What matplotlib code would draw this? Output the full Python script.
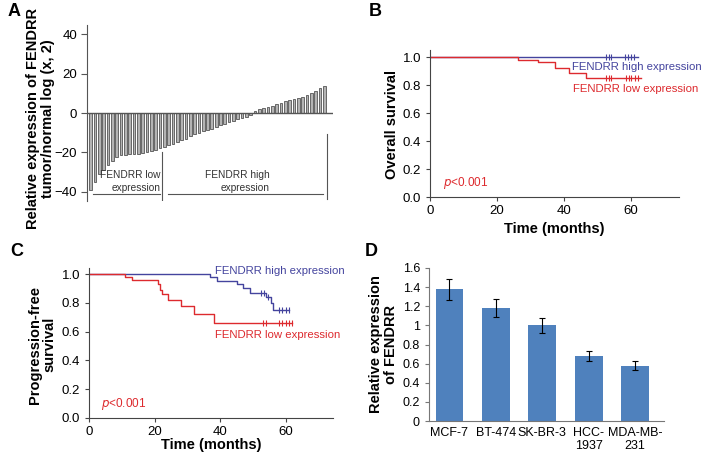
import numpy as np
import matplotlib
matplotlib.use("Agg")
import matplotlib.pyplot as plt

plt.rcParams['font.family'] = ['Liberation Sans', 'DejaVu Sans']

# A: relative FENDRR expression per sample (log2 tumor/normal), sorted
expr_low = [-39.3, -35.3, -31, -29, -26.2, -24.4, -22.3, -21.4, -21.1, -21,
            -20.9, -20.6, -20.2, -19.7, -19.2, -18.6, -18]
expr_high = [-17.2, -16.4, -15.6, -14.8, -13.9, -13, -11.9, -10.8, -10, -9.3,
             -8.6, -7.9, -7.1, -6.3, -5.5, -4.7, -3.9, -3.2, -2.5, -1.8, -1.2,
             0.9, 1.8, 2.4, 3.0, 3.8, 4.6, 5.2, 5.9, 6.6, 7.2, 7.8, 8.3, 9.2,
             10.4, 11.3, 12.7, 13.9]
expr_all = expr_low + expr_high

# B: overall survival (step times, survival), censor times
os_high_t = [0, 62]
os_high_s = [1.0, 1.0]
os_high_cens = [52.6, 53.4, 54.2, 58.4, 59.2, 60.0, 61.0]
os_low_t = [0, 26.3, 32.2, 37.3, 41.5, 46.5, 63]
os_low_s = [1.0, 0.981, 0.962, 0.921, 0.886, 0.852, 0.852]
os_low_cens = [52.6, 53.4, 54.2, 58.6, 59.4, 60.2, 61.2, 62.2]

# C: progression-free survival
pfs_high_t = [0, 37, 39, 45, 47, 49, 51.5, 54, 55.5, 56, 61]
pfs_high_s = [1.0, 0.977, 0.955, 0.93, 0.90, 0.87, 0.87, 0.84, 0.80, 0.75, 0.75]
pfs_high_cens_t = [52.5, 53.4, 54.5, 58, 59, 60, 61]
pfs_high_cens_s = [0.87, 0.87, 0.84, 0.75, 0.75, 0.75, 0.75]
pfs_low_t = [0, 11, 13, 21, 21.5, 22.3, 24, 28, 32, 38, 62]
pfs_low_s = [1.0, 0.98, 0.96, 0.93, 0.89, 0.86, 0.82, 0.775, 0.72, 0.66, 0.66]
pfs_low_cens = [53, 54, 58, 59, 60, 61, 62]

# D: cell lines
cell_lines = ['MCF-7', 'BT-474', 'SK-BR-3', 'HCC-\n1937', 'MDA-MB-\n231']
rel_expr = [1.38, 1.18, 1.0, 0.68, 0.58]
rel_err = [0.11, 0.095, 0.08, 0.055, 0.045]

blue = '#44449e'
red = '#dd2a2e'
W, H = 704, 453

fig = plt.figure(figsize=(W / 100, H / 100), dpi=100)


def box(l, t, r, b):
    return [l / W, (H - b) / H, (r - l) / W, (b - t) / H]


# ---------------- A
axA = fig.add_axes(box(87, 25, 333, 201))
idx = np.arange(len(expr_all))
axA.bar(idx, expr_all, width=0.62, color='#b4b4b4', edgecolor='#555555', linewidth=0.6)
axA.set_xlim(-0.85, 56)
axA.set_ylim(-44.7, 44.7)
axA.axhline(0, color='#555555', lw=1)
for s in ['top', 'right', 'bottom']:
    axA.spines[s].set_visible(False)
axA.spines['left'].set_color('#555555')
axA.set_xticks([])
axA.set_yticks([-40, -20, 0, 20, 40])
axA.tick_params(axis='y', labelsize=9.5, length=4, color='#555555', pad=3)
axA.set_ylabel('Relative expression of FENDRR\ntumor/normal log (x, 2)',
               fontsize=10.5, fontweight='bold', linespacing=1.05)
axA.yaxis.set_label_coords(-0.13, 0.47)
n_low = len(expr_low)
axA.plot([0.5, n_low - 0.9], [-41.3, -41.3], color='#555555', lw=0.8)
axA.plot([n_low + 0.9, len(expr_all) - 1.4], [-41.3, -41.3], color='#555555', lw=0.8)
axA.plot([n_low - 0.45, n_low - 0.45], [-19.8, -45], color='#555555', lw=0.8)
axA.plot([len(expr_all) - 0.35, len(expr_all) - 0.35], [-10.7, -43.5], color='#555555', lw=0.8)
axA.text(n_low - 0.8, -31.5, 'FENDRR low', ha='right', va='center', fontsize=7.3, color='#333333')
axA.text(n_low - 0.8, -38, 'expression', ha='right', va='center', fontsize=7.3, color='#333333')
axA.text(33.8, -31.5, 'FENDRR high', ha='center', va='center', fontsize=7.3, color='#333333')
axA.text(35.8, -38, 'expression', ha='center', va='center', fontsize=7.3, color='#333333')


def km_axes(ax, ylab, lab_x, xlab_y, ymax):
    ax.set_xlim(0, 74.4)
    ax.set_ylim(0, ymax)
    for s in ['top', 'right']:
        ax.spines[s].set_visible(False)
    for s in ['left', 'bottom']:
        ax.spines[s].set_color('#444444')
    ax.set_xticks([0, 20, 40, 60])
    ax.set_yticks([0, 0.2, 0.4, 0.6, 0.8, 1.0])
    ax.set_yticklabels(['0.0', '0.2', '0.4', '0.6', '0.8', '1.0'])
    ax.tick_params(labelsize=9.5, length=3, color='#444444')
    ax.tick_params(axis='x', pad=2.5)
    ax.set_ylabel(ylab, fontsize=10.5, fontweight='bold', linespacing=1.05)
    ax.yaxis.set_label_coords(lab_x, 0.49)
    ax.set_xlabel('Time (months)', fontsize=10.5, fontweight='bold')
    ax.xaxis.set_label_coords(0.5, xlab_y)
    ax.text(3.8, 0.1, r'$p$<0.001', color=red, fontsize=8.5, va='center',
            math_fontfamily='dejavusans')


# ---------------- B
axB = fig.add_axes(box(430, 50, 679, 197))
axB.step(os_high_t, os_high_s, where='post', color=blue, lw=1)
axB.step(os_low_t, os_low_s, where='post', color=red, lw=1)
axB.plot(os_high_cens, [1.0] * len(os_high_cens), '|', color=blue, ms=5, mew=0.8)
axB.plot(os_low_cens, [0.852] * len(os_low_cens), '|', color=red, ms=5, mew=0.8)
km_axes(axB, 'Overall survival', -0.125, -0.17, 1.05)
axB.text(42.3, 0.93, 'FENDRR high expression', color=blue, fontsize=8.2, va='center')
axB.text(42.6, 0.775, 'FENDRR low expression', color=red, fontsize=8.2, va='center')

# ---------------- C
axC = fig.add_axes(box(89, 268, 333, 418))
axC.step(pfs_high_t, pfs_high_s, where='post', color=blue, lw=1)
axC.step(pfs_low_t, pfs_low_s, where='post', color=red, lw=1)
axC.plot(pfs_high_cens_t, pfs_high_cens_s, '|', color=blue, ms=5, mew=0.8)
axC.plot(pfs_low_cens, [0.66] * len(pfs_low_cens), '|', color=red, ms=5, mew=0.8)
km_axes(axC, 'Progression-free\nsurvival', -0.135, -0.135, 1.042)
axC.text(38.3, 1.02, 'FENDRR high expression', color=blue, fontsize=8.2, va='center')
axC.text(38.3, 0.575, 'FENDRR low expression', color=red, fontsize=8.2, va='center')

# ---------------- D
axD = fig.add_axes(box(429, 268, 664, 421))
xD = np.arange(len(cell_lines))
axD.bar(xD, rel_expr, width=0.6, color='#4f81bd',
        yerr=rel_err, capsize=2.5, error_kw=dict(elinewidth=0.8, capthick=0.8, ecolor='black'))
axD.set_xlim(-0.44, 4.62)
axD.set_ylim(0, 1.6)
for s in ['top', 'right']:
    axD.spines[s].set_visible(False)
for s in ['left', 'bottom']:
    axD.spines[s].set_color('#777777')
axD.set_yticks([0, 0.2, 0.4, 0.6, 0.8, 1.0, 1.2, 1.4, 1.6])
axD.set_yticklabels(['0', '0.2', '0.4', '0.6', '0.8', '1', '1.2', '1.4', '1.6'])
axD.set_xticks(xD)
axD.set_xticklabels(cell_lines, linespacing=1.15)
axD.tick_params(axis='x', length=0, labelsize=9, pad=4)
axD.tick_params(axis='y', labelsize=9, length=3, color='#777777')
axD.set_ylabel('Relative expression\nof FENDRR', fontsize=10.5, fontweight='bold', linespacing=1.05)
axD.yaxis.set_label_coords(-0.132, 0.5)

# panel letters
for letter, x, y in [('A', 8, 12), ('B', 369, 12), ('C', 10, 251), ('D', 365, 251)]:
    fig.text(x / W, 1 - y / H, letter, fontsize=13, fontweight='bold', va='center', ha='left')

fig.savefig('out.png', dpi=100)
